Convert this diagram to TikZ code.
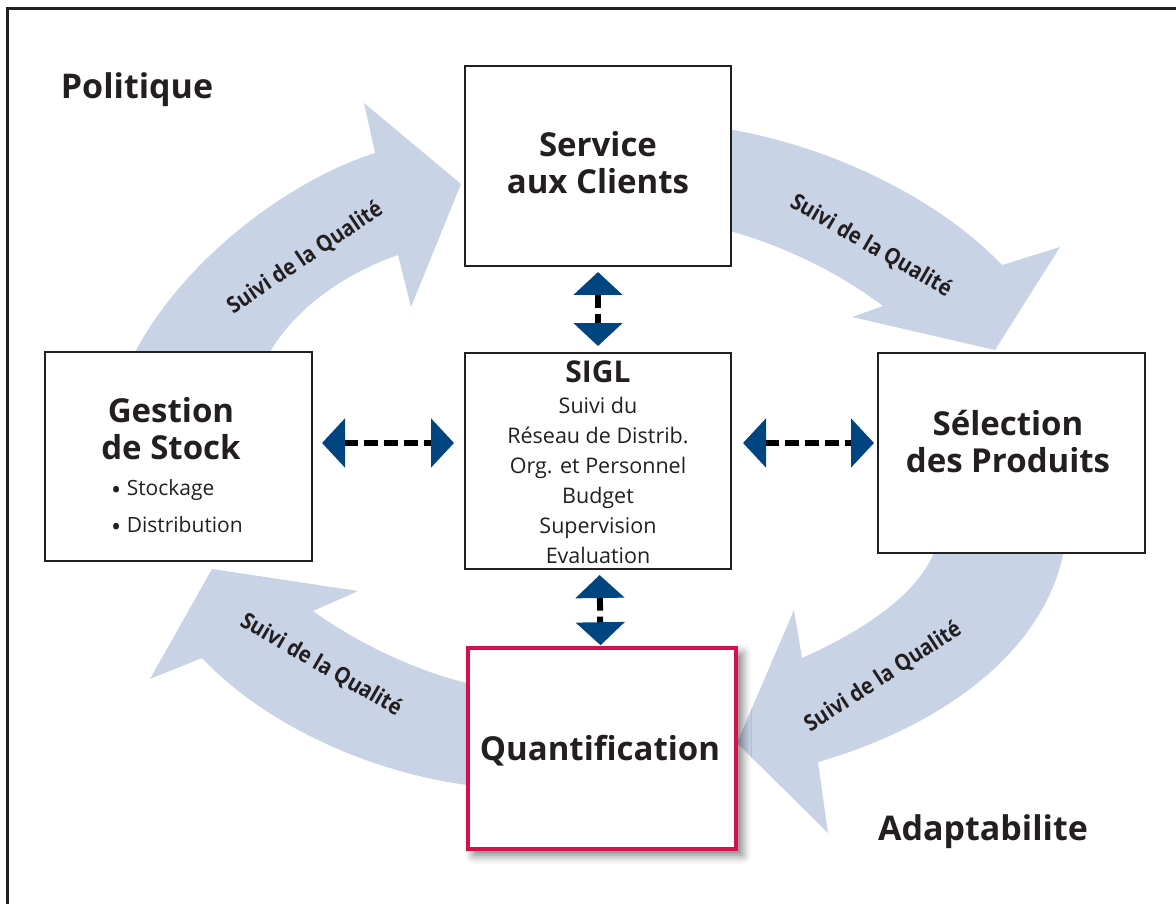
\documentclass[tikz,border=0pt]{standalone}
\usepackage{fontspec}
\setmainfont{Open Sans}
\newfontfamily\condfont[FakeStretch=0.9]{Open Sans}
\usetikzlibrary{arrows.meta,shadows.blur}
\definecolor{ringblue}{HTML}{C8D3E6}
\definecolor{darkblue}{HTML}{00457F}
\definecolor{boxline}{HTML}{231F20}
\definecolor{crimson}{HTML}{D3114B}
\newcommand{\bigbul}{\raisebox{-3.5pt}{\fontsize{27}{27}\selectfont •}}
\tikzset{
  ring/.style={fill=ringblue,draw=none},
  box/.style={draw=boxline,line width=2pt,fill=white,inner sep=0pt},
  qbox/.style={draw=crimson,line width=3.5pt,fill=white,inner sep=0pt,
     blur shadow={shadow xshift=6pt,shadow yshift=-6pt,shadow blur radius=9pt,shadow opacity=55}},
  title/.style={align=center,inner sep=0pt,text=boxline,font=\bfseries\fontsize{33}{37}\selectfont},
  plain/.style={inner sep=0pt,text=boxline,font=\fontsize{21.5}{30}\selectfont},
  ringlabel/.style={inner sep=0pt,text=boxline,font=\condfont\bfseries\fontsize{22.5}{26}\selectfont},
  corner/.style={inner sep=0pt,text=boxline,font=\bfseries\fontsize{34}{38}\selectfont},
  dbl/.style={line width=6pt,draw=black,dash pattern=on 14pt off 6pt,
     {Triangle[width=48pt,length=23pt 0,color=darkblue]}-{Triangle[width=48pt,length=23pt 0,color=darkblue]}},
}
\begin{document}
\begin{tikzpicture}[x=1pt,y=-1pt]
\useasboundingbox (0,0) rectangle (1176,904);
% frame
\draw[boxline,line width=3pt] (7,920) -- (7,9) -- (1190,9);

% ring arrows
\path[ring] (135,380) -- (135,352) .. controls (185,258) and (290,180) .. (375,153)
  -- (364,103) -- (461,184) -- (411,307) -- (398,255)
  .. controls (340,275) and (293,312) .. (270,352) -- (262,380) -- cycle;
\path[ring] (720,128) -- (733,130) .. controls (835,148) and (940,200) .. (1002,265)
  -- (1060,247) -- (995,350) -- (852,317) -- (883,306)
  .. controls (835,270) and (780,245) .. (733,232) -- (720,230) -- cycle;
\path[ring] (1068,540) -- (1063,555) .. controls (1040,660) and (930,730) .. (818,762)
  -- (828,833) -- (737,743) -- (794,610) -- (802,658)
  .. controls (865,630) and (915,595) .. (933,555) -- (938,540) -- cycle;
\path[ring] (485,787) -- (467,785) .. controls (370,772) and (265,725) .. (202,658)
  -- (150,679) -- (212,569) -- (358,591) -- (313,611)
  .. controls (360,645) and (420,672) .. (467,683) -- (485,685) -- cycle;

\node[ringlabel,rotate=34] (l1) at (305,258) {Suivi de la Qualité};
\node[ringlabel,rotate=-30] (l2) at (871,246) {Suivi de la Qualité};
\node[ringlabel,rotate=33] (l3) at (883,677) {Suivi de la Qualité};
\node[ringlabel,rotate=-30] (l4) at (321,665) {Suivi de la Qualité};

% boxes
\node[box,minimum width=266pt,minimum height=200pt] (svc) at (598,166) {};
\node[box,minimum width=266pt,minimum height=216pt] (sigl) at (598,461) {};
\node[box,minimum width=267pt,minimum height=209pt] (gst) at (178.5,456.5) {};
\node[box,minimum width=267pt,minimum height=200pt] (sel) at (1011.5,453) {};
\node[qbox,minimum width=268pt,minimum height=201pt] (qnt) at (602,748.5) {};

% box texts
\node[title] (svcT) at (598,163) {Service\\aux Clients};
\node[plain,align=center] (siglT) at (598,462) {{\bfseries\fontsize{30}{30}\selectfont SIGL}\\[1pt]Suivi du\\Réseau de Distrib.\\Org. et Personnel\\Budget\\Supervision\\Evaluation};
\node[title] (gstT) at (171,429) {Gestion\\de Stock};
\node[plain,align=left,anchor=west,font=\fontsize{21}{37}\selectfont] (gstL) at (111,508) {\bigbul\ Stockage\\\bigbul\ Distribution};
\node[title] (selT) at (1008,442) {Sélection\\des Produits};
\node[title] (qntT) at (600,751) {Quantification};

\node[corner] (pol) at (137,90) {Politique};
\node[corner] (ada) at (983,832) {Adaptabilite};

% connectors
\coordinate (hy) at (0,443);
\draw[dbl,shorten <=5pt,shorten >=6pt] (svc) -- (sigl);
\draw[dbl,shorten <=5pt,shorten >=1pt] (sigl) -- (qnt);
\draw[dbl,shorten <=9pt,shorten >=10pt] (gst.east |- hy) -- (sigl.west |- hy);
\draw[dbl,shorten <=11pt,shorten >=3pt] (sigl.east |- hy) -- (sel.west |- hy);
\end{tikzpicture}
\end{document}
